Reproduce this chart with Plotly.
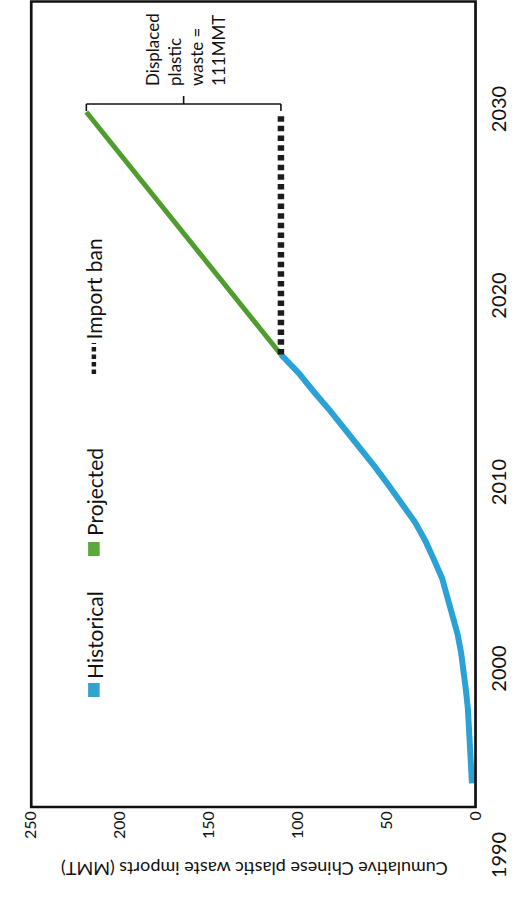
import plotly.graph_objects as go

W, H = 524, 898

# ---- data ----
hist_years = list(range(1994, 2018))
hist_vals = [2.0, 2.5, 3.0, 3.6, 4.3, 5.4, 6.5, 8.1, 10.1, 12.8, 15.5, 18.8,
             23.4, 28.2, 34.0, 41.0, 49.0, 56.8, 65.0, 74.0, 82.0, 91.0, 99.5, 109.5]
proj_years = [2017, 2030]
proj_vals = [109.5, 219.0]
ban_years = [2017, 2030]
ban_vals = [109.5, 109.5]

year_ticks = [1990, 2000, 2010, 2020, 2030]
value_ticks = [0, 50, 100, 150, 200, 250]

legend_labels = ["Historical", "Projected", "Import ban"]
axis_title = "Cumulative Chinese plastic waste imports (MMT)"
note_text = "Displaced<br>plastic<br>waste =<br>111MMT"

BLUE = "#2BA2D6"
GREEN = "#4F9D2C"
DOT = "#1c1c1c"
FONT = "Lato"

# ---- layout geometry (pixels of the 524x898 page) ----
X_LEFT, X_RIGHT = 21, 482          # plot frame left/right
Y_TOP, Y_BOTTOM = 1.5, 807         # plot frame top/bottom
Y_1990 = 858                       # pixel row of the 1990 tick label
PX_PER_YEAR = 18.65                # vertical scale of the year axis


def px(x):
    return x / W


def py(y):
    return (H - y) / H


year_range = [1990 - (H - Y_1990) / PX_PER_YEAR, 1990 + Y_1990 / PX_PER_YEAR]

fig = go.Figure()
fig.add_trace(go.Scatter(x=hist_vals, y=hist_years, mode="lines",
                         line=dict(color=BLUE, width=6), showlegend=False, hoverinfo="skip"))
fig.add_trace(go.Scatter(x=proj_vals, y=proj_years, mode="lines",
                         line=dict(color=GREEN, width=5), showlegend=False, hoverinfo="skip"))
fig.add_trace(go.Scatter(x=ban_vals, y=ban_years, mode="lines",
                         line=dict(color=DOT, width=6.5, dash="5.5px,4.2px"),
                         showlegend=False, hoverinfo="skip"))

shapes = []
# frame
shapes.append(dict(type="rect", xref="paper", yref="paper",
                   x0=px(X_LEFT), x1=px(X_RIGHT), y0=py(Y_BOTTOM), y1=py(Y_TOP),
                   line=dict(color="#111", width=2.7), fillcolor="rgba(0,0,0,0)", layer="above"))

# bracket for displaced waste
top_year = proj_years[-1]
yb = top_year + 8 / PX_PER_YEAR
yb_end = top_year + 1 / PX_PER_YEAR
yb_mid = top_year + 16 / PX_PER_YEAR
xa, xb = proj_vals[-1], ban_vals[-1]
xm = (xa + xb) / 2
bl = dict(color="#111", width=1.6)
shapes += [
    dict(type="line", xref="x", yref="y", x0=xa, x1=xb, y0=yb, y1=yb, line=bl),
    dict(type="line", xref="x", yref="y", x0=xa, x1=xa, y0=yb, y1=yb_end, line=bl),
    dict(type="line", xref="x", yref="y", x0=xb, x1=xb, y0=yb, y1=yb_end, line=bl),
    dict(type="line", xref="x", yref="y", x0=xm, x1=xm, y0=yb, y1=yb_mid, line=bl),
]

# legend swatches
LX0, LX1 = 80, 92
shapes.append(dict(type="rect", xref="paper", yref="paper", x0=px(LX0), x1=px(LX1),
                   y0=py(697), y1=py(683), line=dict(width=0), fillcolor="#34A2CF"))
shapes.append(dict(type="rect", xref="paper", yref="paper", x0=px(LX0), x1=px(LX1),
                   y0=py(556), y1=py(542), line=dict(width=0), fillcolor="#58A83A"))
shapes.append(dict(type="line", xref="paper", yref="paper", x0=px(86), x1=px(86),
                   y0=py(374), y1=py(343), line=dict(color=DOT, width=4.5, dash="4.5px,3px")))

annotations = []
lf = dict(family=FONT, size=21, color="#111")
annotations.append(dict(xref="paper", yref="paper", x=px(86), y=py(681), text=legend_labels[0],
                        textangle=-90, showarrow=False, xanchor="center", yanchor="bottom", font=lf))
annotations.append(dict(xref="paper", yref="paper", x=px(86), y=py(538), text=legend_labels[1],
                        textangle=-90, showarrow=False, xanchor="center", yanchor="bottom", font=lf))
annotations.append(dict(xref="paper", yref="paper", x=px(86), y=py(341), text=legend_labels[2],
                        textangle=-90, showarrow=False, xanchor="center", yanchor="bottom", font=lf))
# axis title (upside-down)
annotations.append(dict(xref="paper", yref="paper", x=px(252), y=py(869), text=axis_title,
                        textangle=180, showarrow=False, xanchor="center", yanchor="middle",
                        font=dict(family=FONT, size=18, color="#111")))
# note
annotations.append(dict(xref="x", yref="y", x=xm - 1, y=top_year + 24 / PX_PER_YEAR, text=note_text,
                        textangle=-90, showarrow=False, align="left", xanchor="center",
                        yanchor="bottom", font=dict(family=FONT, size=17, color="#111")))

fig.update_layout(
    width=W, height=H, margin=dict(l=0, r=0, t=0, b=0),
    paper_bgcolor="white", plot_bgcolor="white",
    shapes=shapes, annotations=annotations, showlegend=False,
    xaxis=dict(domain=[px(X_LEFT), px(X_RIGHT)], range=[250, 0], tickvals=value_ticks,
               tickangle=-90, tickfont=dict(family=FONT, size=16, color="#111"),
               showgrid=False, zeroline=False, showline=False, ticks="",
               anchor="free", position=py(Y_BOTTOM)),
    yaxis=dict(domain=[0, 1], range=year_range, tickvals=year_ticks, side="right",
               tickangle=-90, tickfont=dict(family=FONT, size=20, color="#111"),
               showgrid=False, zeroline=False, showline=False, ticks="",
               anchor="x", ticklabelstandoff=9),
)

fig.write_html("out.html", config={"displayModeBar": False},
               post_script="document.body.style.margin='0';document.body.style.overflow='hidden';")
